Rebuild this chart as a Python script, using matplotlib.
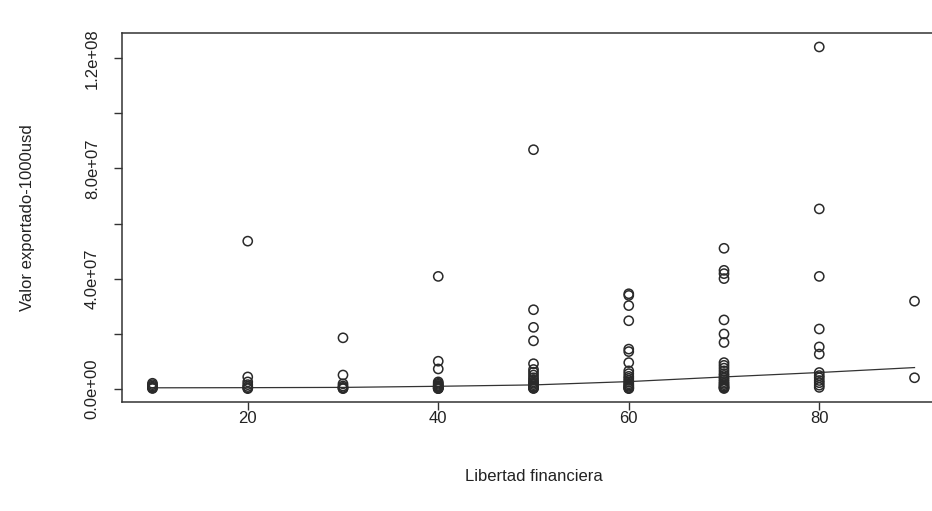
import matplotlib
matplotlib.use("Agg")
import matplotlib.pyplot as plt
import numpy as np

plt.rcParams['font.family'] = ['Liberation Sans', 'DejaVu Sans']

# Data (values in 1000 usd), grouped by "Libertad financiera"
x_levels = [10, 20, 30, 40, 50, 60, 70, 80, 90]
y10 = [0.1e6, 0.3e6, 0.6e6, 1.0e6, 1.5e6, 2.0e6]
y20 = [53.6e6, 4.3e6, 2.5e6, 1.5e6, 0.8e6, 0.3e6, 0.05e6]
y30 = [18.5e6, 5.0e6, 1.8e6, 1.0e6, 0.5e6, 0.2e6, 0.05e6]
y40 = [40.8e6, 10.0e6, 7.2e6, 2.5e6, 2.0e6, 1.6e6, 1.2e6, 0.9e6, 0.6e6, 0.4e6, 0.2e6, 0.1e6, 0.05e6]
y50 = [86.8e6, 28.7e6, 22.3e6, 17.4e6, 9.1e6, 7.0e6, 6.0e6, 5.0e6, 4.0e6, 3.2e6, 2.5e6,
       2.0e6, 1.5e6, 1.0e6, 0.7e6, 0.4e6, 0.2e6, 0.1e6]
y60 = [34.5e6, 33.9e6, 30.2e6, 24.7e6, 14.4e6, 13.5e6, 9.5e6, 6.5e6, 5.5e6, 4.5e6, 3.8e6,
       3.0e6, 2.4e6, 1.8e6, 1.3e6, 0.9e6, 0.5e6, 0.2e6, 0.05e6]
y70 = [51.0e6, 43.0e6, 41.8e6, 40.0e6, 25.0e6, 19.9e6, 16.8e6, 9.5e6, 8.5e6, 7.5e6, 6.5e6,
       5.5e6, 4.8e6, 4.0e6, 3.3e6, 2.6e6, 2.0e6, 1.5e6, 1.0e6, 0.6e6, 0.3e6, 0.1e6]
y80 = [124.1e6, 65.3e6, 40.8e6, 21.7e6, 15.2e6, 12.6e6, 5.9e6, 4.8e6, 4.0e6, 3.0e6, 2.2e6, 1.3e6, 0.5e6]
y90 = [31.8e6, 4.0e6]

# Smoothed trend line
line_x = [10, 20, 30, 40, 50, 60, 70, 80, 90]
line_y = [0.35e6, 0.4e6, 0.5e6, 0.9e6, 1.4e6, 2.6e6, 4.3e6, 5.9e6, 7.7e6]

y_ticks = [0, 2e7, 4e7, 6e7, 8e7, 1e8, 1.2e8]
y_ticklabels = ["0.0e+00", "", "4.0e+07", "", "8.0e+07", "", "1.2e+08"]
x_ticks = [20, 40, 60, 80]

groups = [y10, y20, y30, y40, y50, y60, y70, y80, y90]
xs = np.concatenate([[xv] * len(g) for xv, g in zip(x_levels, groups)])
ys = np.concatenate(groups)

W, H = 932, 511
fig = plt.figure(figsize=(W / 100, H / 100), dpi=100)
left, right, top, bottom = 122, 945, 33.3, 402.3
ax = fig.add_axes([left / W, 1 - bottom / H, (right - left) / W, (bottom - top) / H])

ax.scatter(xs, ys, s=44, facecolors='none', edgecolors='#2a2a2a', linewidths=1.1, zorder=3)
ax.plot(line_x, line_y, color='#333333', lw=0.9, zorder=2)

xmin, xmax = min(xs), max(xs)
ymin, ymax = min(ys), max(ys)
ax.set_xlim(xmin - 0.04 * (xmax - xmin), xmax + 0.04 * (xmax - xmin))
ax.set_ylim(ymin - 0.04 * (ymax - ymin), ymax + 0.04 * (ymax - ymin))

ax.set_xticks(x_ticks)
ax.set_xticklabels([str(v) for v in x_ticks])
ax.set_yticks(y_ticks)
ax.set_yticklabels(y_ticklabels, rotation=90, va='center')

for sp in ax.spines.values():
    sp.set_color('#333333')
    sp.set_linewidth(1.1)
ax.tick_params(axis='both', length=6, width=1, color='#333333', labelsize=12,
               labelcolor='#222222')
ax.tick_params(axis='x', pad=0)
ax.tick_params(axis='y', pad=10)

ax.set_xlabel("Libertad financiera", fontsize=12, color='#222222', labelpad=31)
ax.set_ylabel("Valor exportado-1000usd", fontsize=12, color='#222222', labelpad=36)

fig.savefig("out.png", dpi=100)
